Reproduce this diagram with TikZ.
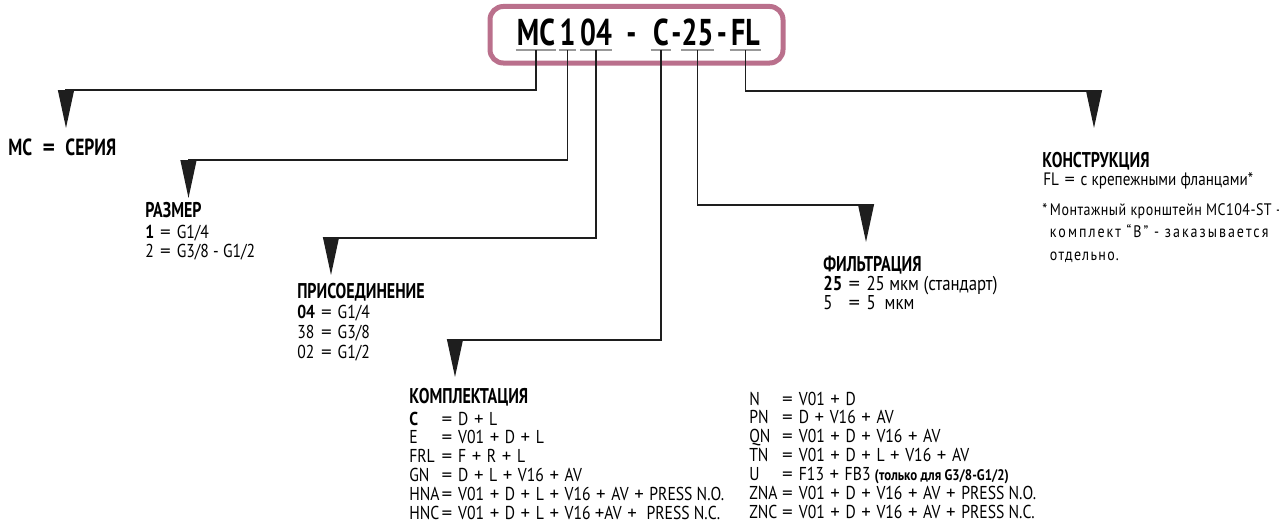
\documentclass[tikz,border=0pt]{standalone}
\usepackage{fontspec}
\usepackage{graphicx}
\setmainfont{PT Sans}[FakeStretch=0.84]
\newfontfamily\headfont{PT Sans}[FakeStretch=0.75]
\usetikzlibrary{arrows.meta}

\definecolor{boxpink}{RGB}{186,112,140}
\definecolor{linegray}{RGB}{30,30,30}

% wide operators as in the sheet
\newcommand{\eq}{\hspace{0.32em}\scalebox{1.35}[1]{=}\hspace{0.32em}}
\newcommand{\pl}{\hspace{0.3em}\scalebox{1.2}[1]{+}\hspace{0.3em}}

\begin{document}
\begin{tikzpicture}[x=0.75pt, y=-0.75pt,
    code/.style={font=\headfont\bfseries\fontsize{28}{28}\selectfont, anchor=base, inner sep=0pt},
    uline/.style={line width=1.5pt, gray!80},
    conn/.style={line width=1pt, linegray, -{Triangle[length=28.5pt, width=12pt]}},
    head/.style={font=\headfont\bfseries\fontsize{16}{16}\selectfont, anchor=base west, inner sep=0pt},
    body/.style={font=\fontsize{14}{14.5}\selectfont, anchor=base west, inner sep=0pt}]

    \useasboundingbox (0,0) rectangle (1279,529);

    % Code box
    \node[draw=boxpink, line width=3.75pt, rounded corners=10pt,
          minimum width=219.75pt, minimum height=42.4pt] (box) at (636.5,34.75) {};
    \node[code, minimum width=30pt] (cMC) at (536,45) {MC};
    \node[code, minimum width=8.25pt] (cSize) at (567.5,45) {1};
    \node[code, minimum width=22.5pt] (cPort) at (596,45) {04};
    \node[code] (d1) at (631.5,45) {-};
    \node[code, minimum width=15pt] (cKit) at (661,45) {C};
    \node[code] (d2) at (676.5,45) {-};
    \node[code, minimum width=23.25pt] (cFilt) at (697.5,45) {25};
    \node[code] (d3) at (722,45) {-};
    \node[code, minimum width=23.25pt] (cForm) at (745.5,45) {FL};
    \foreach \c in {cMC, cSize, cPort, cKit, cFilt, cForm}
        \draw[uline] ([yshift=-3.75pt]\c.base west) -- ([yshift=-3.75pt]\c.base east);

    % Arrow tips
    \coordinate (serTop) at (66,90);    \coordinate (serTip) at (66,128);
    \coordinate (sizeTop) at (188.5,160); \coordinate (sizeTip) at (188.5,198);
    \coordinate (portTop) at (331,238);  \coordinate (portTip) at (331,275);
    \coordinate (kitTop) at (455,340);   \coordinate (kitTip) at (455,377);
    \coordinate (filtTop) at (866,205);  \coordinate (filtTip) at (866,242);
    \coordinate (formTop) at (1094,91);  \coordinate (formTip) at (1094,128);

    % Connectors
    \draw[conn] ([yshift=-3.75pt]cMC.base) |- (serTop) -- (serTip);
    \draw[conn] ([yshift=-3.75pt]cSize.base) |- (sizeTop) -- (sizeTip);
    \draw[conn] ([yshift=-3.75pt]cPort.base) |- (portTop) -- (portTip);
    \draw[conn] ([yshift=-3.75pt]cKit.base) |- (kitTop) -- (kitTip);
    \draw[conn] ([yshift=-3.75pt]cFilt.base) |- (filtTop) -- (filtTip);
    \draw[conn] ([yshift=-3.75pt]cForm.base) |- (formTop) -- (formTip);

    % Series
    \node[head, font=\headfont\bfseries\fontsize{17.5}{17.5}\selectfont] (ser) at (8,155)
        {MC\hspace{0.45em}\scalebox{1.35}[1]{=}\hspace{0.45em}СЕРИЯ};

    % Size
    \node[head] (size) at (145,217) {РАЗМЕР};
    \node[body] (sizeB) at (145,238) {\begin{tabular}[t]{@{}l@{}l@{}}
        \textbf{1} & \eq G1/4\\
        2 & \eq G3/8 - G1/2
    \end{tabular}};

    % Port
    \node[head] (port) at (297,298) {ПРИСОЕДИНЕНИЕ};
    \node[body, font=\fontsize{14}{15}\selectfont] (portB) at (297,318) {\begin{tabular}[t]{@{}l@{}l@{}}
        \textbf{04} & \eq G1/4\\
        38 & \eq G3/8\\
        02 & \eq G1/2
    \end{tabular}};

    % Kit
    \node[head] (kit) at (409,403) {КОМПЛЕКТАЦИЯ};
    \node[body, font=\fontsize{14}{13.9}\selectfont] (kitB) at (409,425) {\begin{tabular}[t]{@{}l@{\hspace{-3pt}}l@{}}
        \textbf{C} & \eq D\pl L\\
        E & \eq V01\pl D\pl L\\
        FRL & \eq F\pl R\pl L\\
        GN & \eq D\pl L\pl V16\pl AV\\
        HNA & \eq V01\pl D\pl L\pl V16\pl AV\pl PRESS N.O.\\
        HNC & \eq V01\pl D\pl L\pl V16 \scalebox{1.2}[1]{+}AV\pl\ PRESS N.C.
    \end{tabular}};
    \node[body, font=\fontsize{14}{13.9}\selectfont] (kitC) at (749,405) {\begin{tabular}[t]{@{}l@{\hspace{-1pt}}l@{}}
        N & \eq V01\pl D\\
        PN & \eq D\pl V16\pl AV\\
        QN & \eq V01\pl D\pl V16\pl AV\\
        TN & \eq V01\pl D\pl L\pl V16\pl AV\\
        U & \eq F13\pl FB3 {\bfseries\fontsize{11.5}{13.9}\selectfont(только для G3/8-G1/2)}\\
        ZNA & \eq V01\pl D\pl V16\pl AV\pl PRESS N.O.\\
        ZNC & \eq V01\pl D\pl V16\pl AV\pl PRESS N.C.
    \end{tabular}};

    % Filter
    \node[head] (filt) at (823,271) {ФИЛЬТРАЦИЯ};
    \node[body, font=\fontsize{15}{14.5}\selectfont] (filtB) at (823,290) {\begin{tabular}[t]{@{}l@{}l@{}}
        \textbf{25} & \eq 25 мкм (стандарт)\\
        5 & \eq 5\ \ мкм
    \end{tabular}};

    % Form
    \node[head] (form) at (1042,167) {КОНСТРУКЦИЯ};
    \node[body, font=\fontsize{13.5}{14}\selectfont] (formB) at (1043,185) {FL\eq с крепежными фланцами*};
    \node[body, font=\fontsize{12.5}{16.9}\selectfont] (note) at (1042,215) {\begin{tabular}[t]{@{}l@{\,}l@{}}
        * & {\addfontfeature{LetterSpace=3}Монтажный кронштейн MC104-ST -}\\
          & {\addfontfeature{LetterSpace=12}комплект “B” - заказывается}\\
          & {\addfontfeature{LetterSpace=8}отдельно.}
    \end{tabular}};
\end{tikzpicture}
\end{document}
